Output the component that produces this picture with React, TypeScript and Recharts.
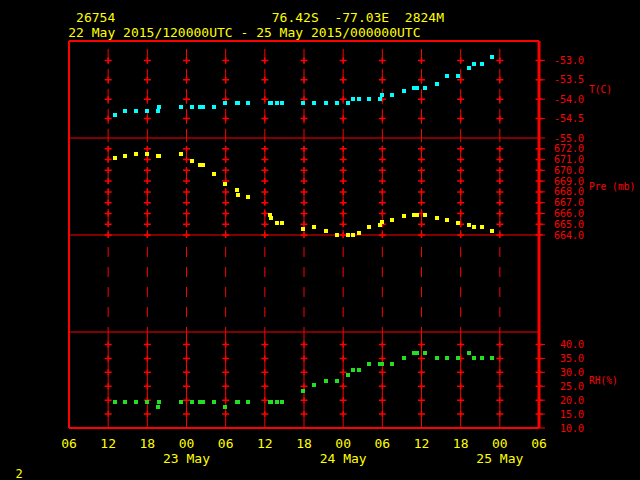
import React from "react";
import { ScatterChart, Scatter, XAxis, YAxis, ReferenceLine } from "recharts";

// hours since 22 May 06 UTC
const hours = [7.0, 8.6, 10.2, 11.9, 13.6, 13.8, 17.1, 18.8, 20.0, 20.6, 22.2, 23.9, 25.7, 25.9, 27.4, 30.8, 30.9, 31.8, 32.7, 35.9, 37.5, 39.3, 41.0, 42.7, 43.5, 44.4, 46.0, 47.7, 47.9, 49.5, 51.3, 52.9, 53.3, 54.6, 56.3, 57.9, 59.6, 61.3, 62.0, 63.2, 64.8];
const tempC = [-54.4, -54.3, -54.3, -54.3, -54.3, -54.2, -54.2, -54.2, -54.2, -54.2, -54.2, -54.1, -54.1, -54.1, -54.1, -54.1, -54.1, -54.1, -54.1, -54.1, -54.1, -54.1, -54.1, -54.1, -54.0, -54.0, -54.0, -54.0, -53.9, -53.9, -53.8, -53.7, -53.7, -53.7, -53.6, -53.4, -53.4, -53.2, -53.1, -53.1, -52.9];
const pressMb = [671.1, 671.3, 671.5, 671.5, 671.3, 671.3, 671.5, 670.9, 670.5, 670.5, 669.7, 668.7, 668.2, 667.7, 667.5, 665.9, 665.6, 665.1, 665.1, 664.6, 664.7, 664.4, 664.0, 664.0, 664.0, 664.2, 664.7, 664.9, 665.2, 665.4, 665.8, 665.9, 665.9, 665.9, 665.6, 665.4, 665.1, 664.9, 664.7, 664.7, 664.4];
const rhPct = [19.3, 19.3, 19.3, 19.3, 17.5, 19.3, 19.3, 19.3, 19.3, 19.3, 19.3, 17.5, 19.3, 19.3, 19.3, 19.3, 19.3, 19.3, 19.3, 23.2, 25.4, 27.0, 27.0, 29.2, 31.0, 31.0, 33.1, 33.1, 33.1, 33.1, 35.2, 37.0, 37.0, 37.0, 35.2, 35.2, 35.2, 37.0, 35.2, 35.2, 35.2];

const xTicks = [0, 6, 12, 18, 24, 30, 36, 42, 48, 54, 60, 66, 72];
const xTickLabels = ["06", "12", "18", "00", "06", "12", "18", "00", "06", "12", "18", "00", "06"];
const dayTicks = [18, 42, 66];
const dayNames = ["23 May", "24 May", "25 May"];
const gridHours = [6, 12, 18, 24, 30, 36, 42, 48, 54, 60, 66];

const tTicks = [-55, -54.5, -54, -53.5, -53];
const pTicks = [664, 665, 666, 667, 668, 669, 670, 671, 672];
const rhTicks = [10, 15, 20, 25, 30, 35, 40];

const RED = "#ff0000";
const YEL = "#ffff00";
const MONO = "'DejaVu Sans Mono', monospace";
const W = 640;
const H = 480;
const LEFT = 69;
const AXIS_W = 101;

const series = (vals: number[]) => hours.map((h, i) => ({ h, v: vals[i] }));
const crossPts = (ticks: number[]) =>
  [...gridHours, 72].flatMap((h) => ticks.map((v) => ({ h, v })));

const square = (fill: string) => (p: any) => (
  <rect
    x={Math.round(p.cx - 2)}
    y={Math.round(p.cy - 2)}
    width={4}
    height={4}
    fill={fill}
    shapeRendering="crispEdges"
  />
);
const cross = (p: any) => (
  <path
    d={`M${p.cx - 3.5},${p.cy}H${p.cx + 3.5}M${p.cx},${p.cy - 3}V${p.cy + 3}`}
    stroke={RED}
    strokeWidth={1.5}
    fill="none"
  />
);

const rightTick = (p: any) => (
  <text x={p.x + 39} y={p.y + 3.6} textAnchor="end" fill={RED} fontSize={10} fontFamily={MONO}>
    {Number(p.payload.value).toFixed(1)}
  </text>
);

const bottomTick = (p: any) => {
  const i = xTicks.indexOf(p.payload.value);
  const d = dayTicks.indexOf(p.payload.value);
  return (
    <g>
      <text x={p.x} y={p.y + 20} textAnchor="middle" fill={YEL} fontSize={13} fontFamily={MONO}>
        {xTickLabels[i]}
      </text>
      {d >= 0 && (
        <text x={p.x} y={p.y + 35} textAnchor="middle" fill={YEL} fontSize={13} fontFamily={MONO}>
          {dayNames[d]}
        </text>
      )}
    </g>
  );
};

const layer: React.CSSProperties = { position: "absolute", left: 0, top: 0 };

const vDash = (lo: number, hi: number, dash: string, offset: number, key: string) =>
  gridHours.map((h) => (
    <ReferenceLine
      key={`${key}-${h}`}
      segment={[{ x: h, y: hi }, { x: h, y: lo }]}
      stroke={RED}
      strokeWidth={1}
      strokeDasharray={dash}
      strokeDashoffset={offset}
      ifOverflow="visible"
    />
  ));

const yAxisProps = {
  orientation: "right" as const,
  type: "number" as const,
  dataKey: "v",
  width: AXIS_W,
  axisLine: { stroke: RED, strokeWidth: 3 },
  tickLine: { stroke: RED },
  tickSize: 6,
  tickMargin: 0,
  tick: rightTick,
  interval: 0 as const,
  allowDataOverflow: true,
};

export default function App() {
  return (
    <div style={{ position: "absolute", left: 0, top: 0, width: W, height: H, background: "#000", overflow: "hidden" }}>
      {/* temperature */}
      <div style={layer}>
        <ScatterChart width={W} height={H} margin={{ top: 41, right: 0, bottom: 342, left: LEFT }}>
          <XAxis type="number" dataKey="h" domain={[0, 72]} ticks={xTicks} hide />
          <YAxis {...yAxisProps} domain={[-55, -52.5]} ticks={tTicks} />
          {vDash(-55, -52.6, "15 5", -4, "t")}
          <ReferenceLine y={-52.5} stroke={RED} strokeWidth={2} ifOverflow="visible" />
          <ReferenceLine x={0} stroke={RED} strokeWidth={2} ifOverflow="visible" />
          <Scatter data={crossPts(tTicks.slice(1))} shape={cross} isAnimationActive={false} />
          <Scatter data={series(tempC)} shape={square("#00ffff")} isAnimationActive={false} />
        </ScatterChart>
      </div>
      {/* pressure */}
      <div style={layer}>
        <ScatterChart width={W} height={H} margin={{ top: 138, right: 0, bottom: 148, left: LEFT }}>
          <XAxis type="number" dataKey="h" domain={[0, 72]} ticks={xTicks} hide />
          <YAxis {...yAxisProps} domain={[655, 673]} ticks={pTicks} />
          {vDash(664, 673, "17 4", 13, "pu")}
          {vDash(655, 664, "10 10", 8, "pl")}
          <ReferenceLine y={673} stroke={RED} strokeWidth={1} ifOverflow="visible" />
          <ReferenceLine y={664} stroke={RED} strokeWidth={1} ifOverflow="visible" />
          <ReferenceLine x={0} stroke={RED} strokeWidth={2} ifOverflow="visible" />
          <Scatter data={crossPts(pTicks)} shape={cross} isAnimationActive={false} />
          <Scatter data={series(pressMb)} shape={square(YEL)} isAnimationActive={false} />
        </ScatterChart>
      </div>
      {/* relative humidity */}
      <div style={layer}>
        <ScatterChart width={W} height={H} margin={{ top: 332, right: 0, bottom: 22, left: LEFT }}>
          <XAxis
            type="number"
            dataKey="h"
            domain={[0, 72]}
            ticks={xTicks}
            interval={0}
            height={30}
            axisLine={{ stroke: RED, strokeWidth: 2 }}
            tickLine={false}
            tickSize={0}
            tickMargin={0}
            tick={bottomTick}
          />
          <YAxis {...yAxisProps} domain={[10, 44.5]} ticks={rhTicks} />
          {vDash(10, 44.5, "12 2.2", 0, "rh")}
          <ReferenceLine y={44.5} stroke={RED} strokeWidth={1} ifOverflow="visible" />
          <ReferenceLine x={0} stroke={RED} strokeWidth={2} ifOverflow="visible" />
          <Scatter data={crossPts(rhTicks.slice(1))} shape={cross} isAnimationActive={false} />
          <Scatter data={series(rhPct)} shape={square("#20e020")} isAnimationActive={false} />
        </ScatterChart>
      </div>
      <svg width={W} height={H} style={{ ...layer, pointerEvents: "none" }}>
        <g fontFamily={MONO} fill={YEL} fontSize={13} style={{ whiteSpace: "pre" }}>
          <text x={68.3} y={21.5} xmlSpace="preserve">{" 26754                    76.42S  -77.03E  2824M"}</text>
          <text x={68.3} y={36.8} xmlSpace="preserve">22 May 2015/120000UTC - 25 May 2015/000000UTC</text>
          <text x={15.5} y={477.5} fontSize={12}>2</text>
        </g>
        <g fontFamily={MONO} fill={RED} fontSize={9.6} style={{ whiteSpace: "pre" }}>
          <text x={589} y={93.3}>T(C)</text>
          <text x={589} y={190} xmlSpace="preserve">Pre (mb)</text>
          <text x={589} y={384}>RH(%)</text>
        </g>
      </svg>
    </div>
  );
}
